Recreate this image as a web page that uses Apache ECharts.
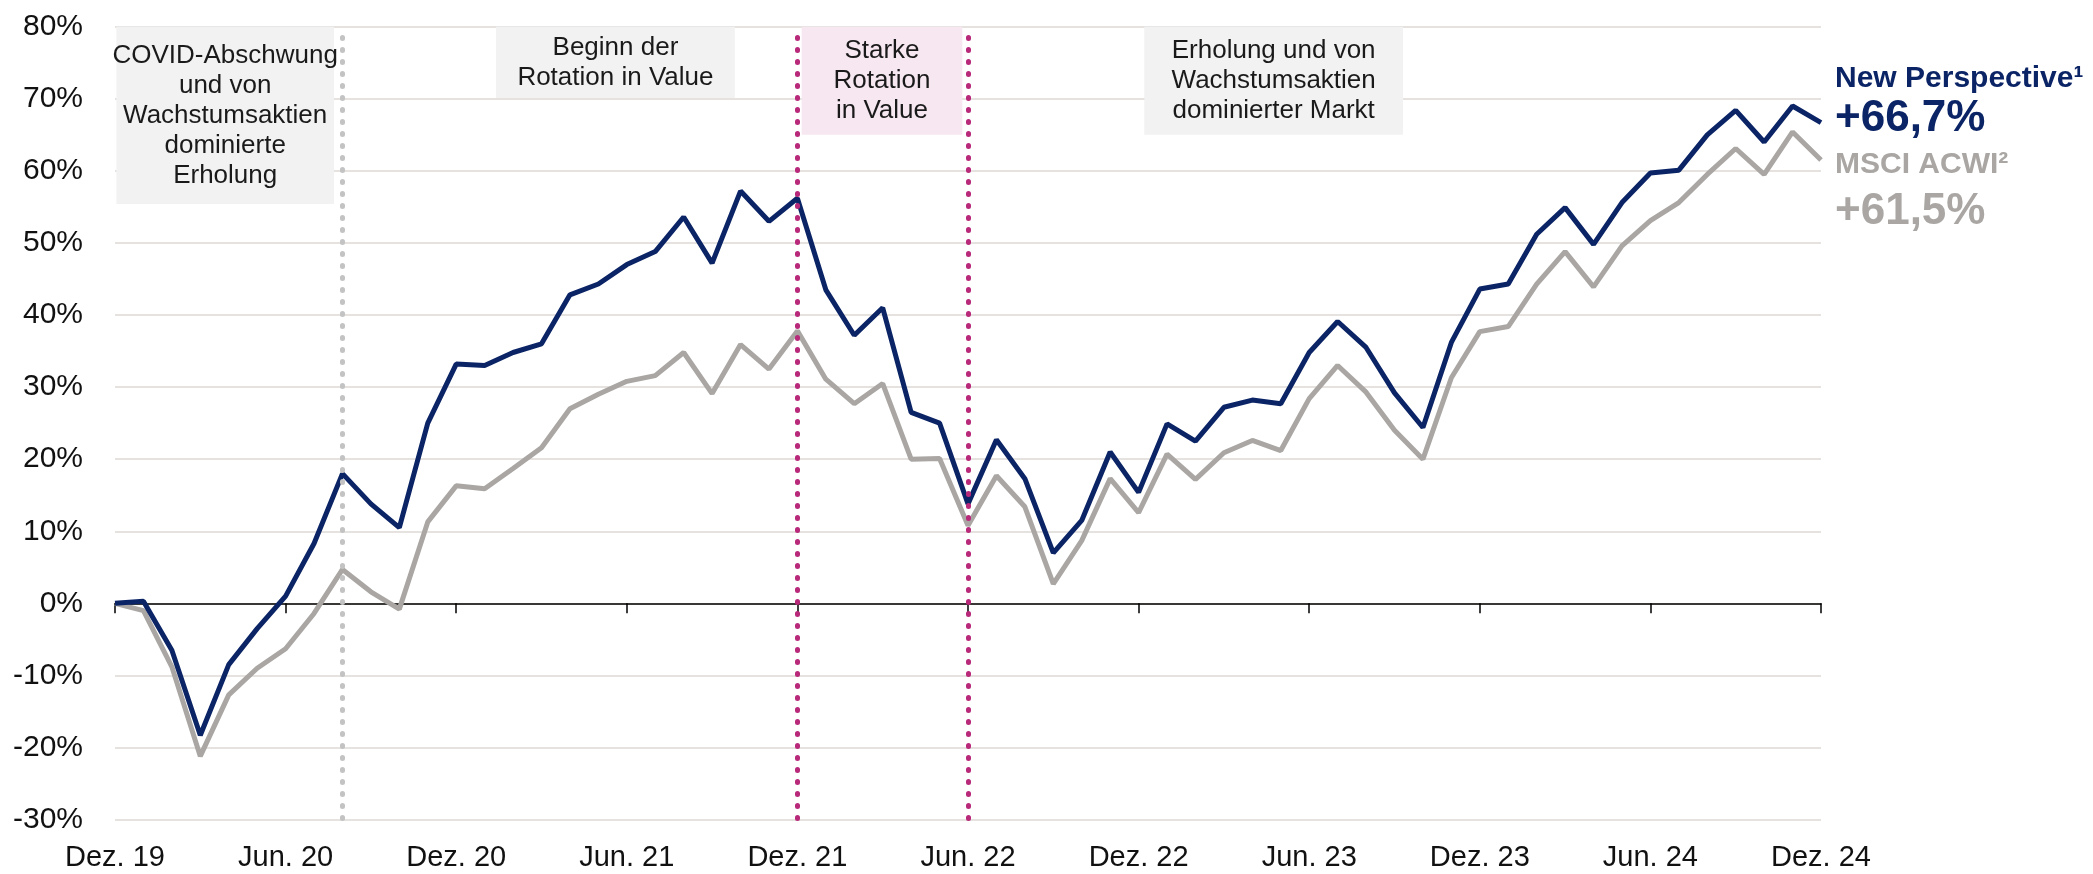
<!DOCTYPE html>
<html>
<head>
<meta charset="utf-8">
<title>New Perspective vs. MSCI ACWI</title>
<script src="https://cdn.jsdelivr.net/npm/echarts@6/dist/echarts.min.js"></script>
<style>
  html, body { margin: 0; padding: 0; background: #fff; }
  #chart { width: 2093px; height: 874px; }
</style>
</head>
<body>
<div id="chart"></div>
<script>
// Monatswerte Dez. 19 .. Dez. 24 (kumulierte Wertentwicklung in %)
const tickLabels = ['Dez. 19', 'Jun. 20', 'Dez. 20', 'Jun. 21', 'Dez. 21', 'Jun. 22',
  'Dez. 22', 'Jun. 23', 'Dez. 23', 'Jun. 24', 'Dez. 24']

const newPerspective = [
  0, 0.3, -6.5, -18.3, -8.5, -3.5, 1.0, 8.3, 18.0, 13.8, 10.5, 25.0, 33.2,
  33.0, 34.8, 36.0, 42.8, 44.3, 47.0, 48.8, 53.6, 47.2, 57.2, 53.0, 56.2,
  43.5, 37.2, 41.0, 26.5, 25.0, 13.8, 22.7, 17.3, 7.0, 11.5, 21.0, 15.4,
  24.9, 22.5, 27.2, 28.2, 27.7, 34.8, 39.1, 35.5, 29.2, 24.4, 36.2, 43.6,
  44.3, 51.2, 54.9, 49.8, 55.6, 59.7, 60.1, 65.0, 68.4, 64.0, 69.0, 66.7
]

const msciAcwi = [
  0, -1.0, -8.8, -21.2, -12.7, -9.0, -6.3, -1.4, 4.7, 1.6, -0.8, 11.3, 16.3,
  15.9, 18.7, 21.6, 27.0, 29.0, 30.8, 31.6, 34.8, 29.1, 35.9, 32.5, 37.8,
  31.1, 27.7, 30.5, 20.0, 20.1, 10.8, 17.7, 13.4, 2.7, 8.7, 17.3, 12.6,
  20.7, 17.2, 20.9, 22.6, 21.2, 28.4, 33.0, 29.3, 24.0, 20.0, 31.3, 37.7,
  38.4, 44.3, 48.8, 43.9, 49.6, 53.1, 55.6, 59.5, 63.1, 59.5, 65.4, 61.5
]

// Monate, an denen eine neue Marktphase beginnt (Index ab Dez. 19)
const phaseStarts = [8, 24, 30]

const phaseTexts = [
  'COVID-Abschwung\nund von\nWachstumsaktien\ndominierte\nErholung',
  'Beginn der\nRotation in Value',
  'Starke\nRotation\nin Value',
  'Erholung und von\nWachstumsaktien\ndominierter Markt'
]

const NAVY = '#0b2466'
const GREY = '#a9a6a3'
const PINK = '#b8297a'
const FONT = "'Liberation Sans', Arial, sans-serif"

const fmt = (v) => v.toFixed(1).replace('.', ',')

const boxLabel = {
  show: true,
  position: 'inside',
  color: '#1a1a1a',
  fontFamily: FONT,
  fontSize: 26,
  lineHeight: 30
}

const chart = echarts.init(document.getElementById('chart'))

chart.setOption({
  animation: false,
  textStyle: { fontFamily: FONT },
  grid: { left: 115, right: 272, top: 26.7, bottom: 54.4, containLabel: false },
  xAxis: [
    {
      type: 'value',
      min: 0,
      max: 60,
      interval: 6,
      axisLine: { onZero: true, lineStyle: { color: '#000', width: 1.5 } },
      axisTick: { show: true, length: 10, lineStyle: { color: '#000', width: 1.5 } },
      axisLabel: { show: false },
      splitLine: { show: false }
    },
    {
      type: 'value',
      min: 0,
      max: 60,
      interval: 6,
      position: 'bottom',
      axisLine: { show: false, onZero: false },
      axisTick: { show: false },
      splitLine: { show: false },
      axisLabel: {
        color: '#111',
        fontSize: 29,
        margin: 24,
        showMinLabel: true,
        showMaxLabel: true,
        formatter: (v) => tickLabels[v / 6]
      }
    }
  ],
  yAxis: {
    type: 'value',
    min: -30,
    max: 80,
    interval: 10,
    axisLine: { show: false },
    axisTick: { show: false },
    axisLabel: { color: '#111', fontSize: 30, margin: 32, formatter: '{value}%' },
    splitLine: { lineStyle: { color: '#dcd8d4', width: 1.5 } }
  },
  series: [
    {
      name: 'Phasen',
      type: 'line',
      data: [],
      silent: true,
      z: 1,
      markArea: {
        silent: true,
        data: [
          [{ xAxis: 0.05, yAxis: 80, itemStyle: { color: '#f2f2f2' }, label: boxLabel, name: phaseTexts[0] }, { xAxis: 7.7, yAxis: 55.4 }],
          [{ xAxis: 13.4, yAxis: 80, itemStyle: { color: '#f2f2f2' }, label: boxLabel, name: phaseTexts[1] }, { xAxis: 21.8, yAxis: 70.1 }],
          [{ xAxis: 24.15, yAxis: 80, itemStyle: { color: '#f6e7f0' }, label: boxLabel, name: phaseTexts[2] }, { xAxis: 29.8, yAxis: 65 }],
          [{ xAxis: 36.2, yAxis: 80, itemStyle: { color: '#f2f2f2' }, label: boxLabel, name: phaseTexts[3] }, { xAxis: 45.3, yAxis: 65 }]
        ]
      }
    },
    {
      name: 'MSCI ACWI',
      type: 'line',
      data: msciAcwi.map((v, i) => [i, v]),
      showSymbol: false,
      z: 3,
      lineStyle: { color: GREY, width: 5 },
      itemStyle: { color: GREY },
      endLabel: {
        show: true,
        distance: 14,
        offset: [0, 32],
        formatter: (p) => `{n|MSCI ACWI²}\n{v|+${fmt(p.value[1])}%}`,
        rich: {
          n: { fontFamily: FONT, fontSize: 30, fontWeight: 'bold', color: GREY, lineHeight: 40 },
          v: { fontFamily: FONT, fontSize: 44, fontWeight: 'bold', color: GREY, lineHeight: 54 }
        }
      }
    },
    {
      name: 'New Perspective',
      type: 'line',
      data: newPerspective.map((v, i) => [i, v]),
      showSymbol: false,
      z: 4,
      lineStyle: { color: NAVY, width: 5 },
      itemStyle: { color: NAVY },
      endLabel: {
        show: true,
        distance: 14,
        offset: [0, -24],
        formatter: (p) => `{n|New Perspective¹}\n{v|+${fmt(p.value[1])}%}`,
        rich: {
          n: { fontFamily: FONT, fontSize: 30, fontWeight: 'bold', color: NAVY, lineHeight: 40 },
          v: { fontFamily: FONT, fontSize: 44, fontWeight: 'bold', color: NAVY, lineHeight: 40 }
        }
      }
    },
    {
      name: 'Phasenwechsel',
      type: 'line',
      data: [],
      silent: true,
      z: 6,
      markLine: {
        silent: true,
        symbol: 'none',
        label: { show: false },
        lineStyle: { type: [1, 11], cap: 'round', width: 5 },
        data: phaseStarts.map((m, i) => [
          { coord: [m, 78.5], lineStyle: { color: i === 0 ? '#c3c3c3' : PINK } },
          { coord: [m, -30] }
        ])
      }
    }
  ]
})
</script>
</body>
</html>
